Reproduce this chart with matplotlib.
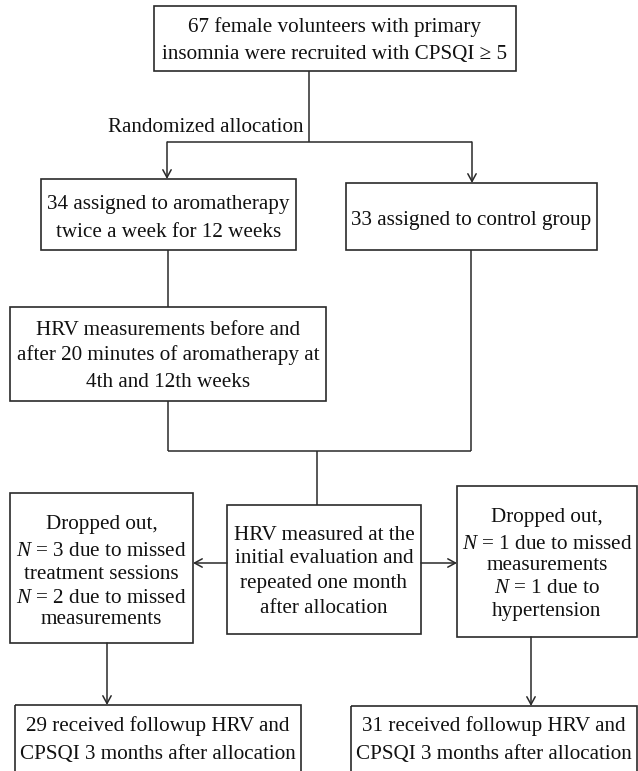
import matplotlib
matplotlib.use("Agg")
import matplotlib.pyplot as plt
from matplotlib.patches import Rectangle

plt.rcParams["font.family"] = ["Liberation Serif", "DejaVu Serif"]
plt.rcParams["mathtext.fontset"] = "custom"
plt.rcParams["mathtext.rm"] = "Liberation Serif"
plt.rcParams["mathtext.it"] = "Liberation Serif:italic"

# study numbers
enrolled, aroma_n, control_n = 67, 34, 33
aroma_drop = [3, 2]
control_drop = [1, 1]
aroma_done, control_done = 29, 31

# box texts, one entry per line
labels = {
    "enrol": ["%d female volunteers with primary" % enrolled,
              "insomnia were recruited with CPSQI \u2265 5"],
    "aroma": ["%d assigned to aromatherapy" % aroma_n, "twice a week for 12 weeks"],
    "ctrl": ["%d assigned to control group" % control_n],
    "hrv": ["HRV measurements before and", "after 20 minutes of aromatherapy at",
            "4th and 12th weeks"],
    "mid": ["HRV measured at the", "initial evaluation and", "repeated one month",
            "after allocation"],
    "dropL": ["Dropped out,", "$N$ = %d due to missed" % aroma_drop[0],
              "treatment sessions", "$N$ = %d due to missed" % aroma_drop[1],
              "measurements"],
    "dropR": ["Dropped out,", "$N$ = %d due to missed" % control_drop[0],
              "measurements", "$N$ = %d due to" % control_drop[1], "hypertension"],
    "endL": ["%d received followup HRV and" % aroma_done,
             "CPSQI 3 months after allocation"],
    "endR": ["%d received followup HRV and" % control_done,
             "CPSQI 3 months after allocation"],
}
rand_label = "Randomized allocation"

# layout in pixels (x0, y0, x1, y1), y downward
boxes = {
    "enrol": (154, 6, 516, 71),
    "aroma": (41, 179, 296, 250),
    "ctrl": (346, 183, 597, 250),
    "hrv": (10, 307, 326, 401),
    "mid": (227, 505, 421, 634),
    "dropL": (10, 493, 193, 643),
    "dropR": (457, 486, 637, 637),
    "endL": (15, 705, 301, 790),
    "endR": (351, 706, 637, 790),
}
line_y = {
    "enrol": [25, 52],
    "aroma": [202, 230],
    "ctrl": [218],
    "hrv": [328, 353, 380],
    "mid": [533, 556, 581, 606],
    "dropL": [522, 549, 572, 596, 617],
    "dropR": [515, 542, 563, 586, 609],
    "endL": [724, 752],
    "endR": [724, 752],
}
FS = 15.2

fig = plt.figure(figsize=(6.38, 7.71), dpi=100)
ax = fig.add_axes([0, 0, 1, 1])
ax.set_xlim(0, 638)
ax.set_ylim(771, 0)
ax.axis("off")

ec = "#2a2a2a"
for k, (x0, y0, x1, y1) in boxes.items():
    ax.add_patch(Rectangle((x0, y0), x1 - x0, y1 - y0, fill=False, ec=ec, lw=1.2))
    for s, ty in zip(labels[k], line_y[k]):
        ax.text((x0 + x1) / 2, ty, s, ha="center", va="center_baseline",
                fontsize=FS, color="#111111")

def line(xs, ys):
    ax.plot(xs, ys, color=ec, lw=1.1, solid_capstyle="butt")

def arrow(x0, y0, x1, y1):
    ax.annotate("", xy=(x1, y1), xytext=(x0, y0),
                arrowprops=dict(arrowstyle="->,head_length=0.55,head_width=0.3",
                                color=ec, lw=1.1, shrinkA=0, shrinkB=0))

# top split
line([309, 309], [71, 142])
line([167, 472], [142, 142])
arrow(167, 142, 167, 179)
arrow(472, 142, 472, 183)
ax.text(303, 125, rand_label, ha="right", va="center_baseline", fontsize=FS, color="#111111")

# branches join before the shared measurement box
line([168, 168], [250, 307])
line([168, 168], [401, 451])
line([471, 471], [250, 451])
line([168, 471], [451, 451])
line([317, 317], [451, 505])

# side arrows
arrow(227, 563, 193, 563)
arrow(421, 563, 457, 563)

# down to finals
arrow(107, 643, 107, 705)
arrow(531, 637, 531, 706)

fig.savefig("out.png", dpi=100)
